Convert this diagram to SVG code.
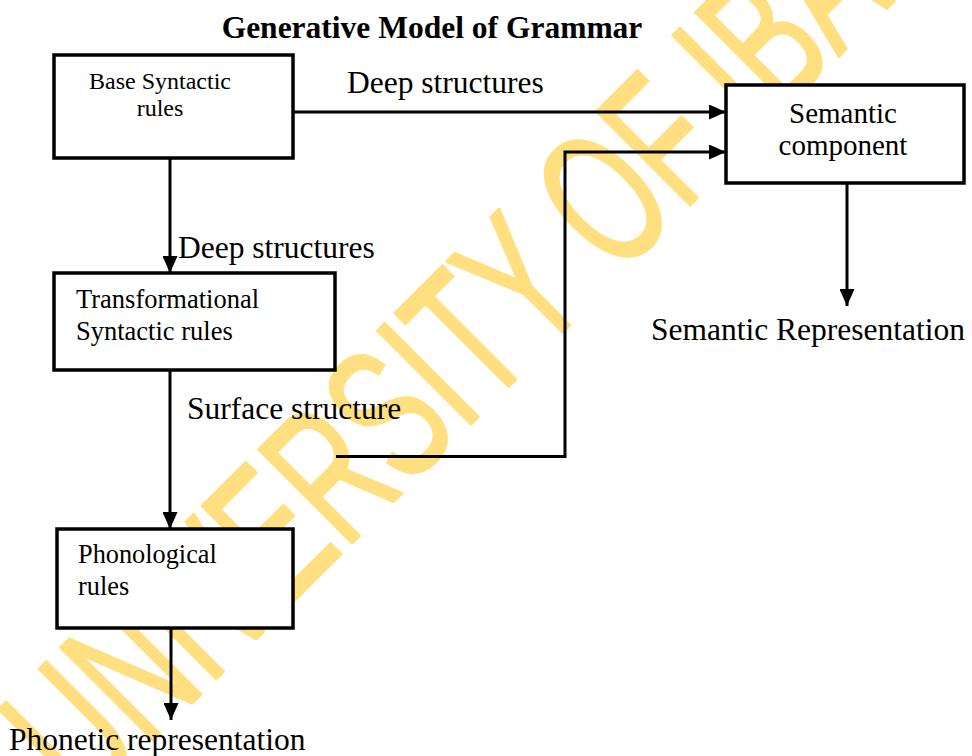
<svg xmlns="http://www.w3.org/2000/svg" width="972" height="756" viewBox="0 0 972 756">
  <defs>
    <marker id="arrow" markerUnits="userSpaceOnUse" markerWidth="17" markerHeight="15" refX="17" refY="7.5" orient="auto">
      <path d="M0,0 L17,7.5 L0,15 z" fill="#000"/>
    </marker>
  </defs>
  <style>
    .box { fill: #fff; stroke: #000; stroke-width: 3.5; }
    .conn { fill: none; stroke: #000; stroke-width: 3; }
    .boxtxt { font-family: "Liberation Serif", "Times New Roman", serif; fill: #000; }
    .lbl { font-family: "Liberation Serif", "Times New Roman", serif; font-size: 31.5px; fill: #000; }
    .wm { font-family: "Liberation Sans", Arial, sans-serif; font-size: 192px; fill: #FFDF80; stroke: #FFDF80; stroke-width: 3; stroke-linejoin: round; stroke-linecap: round; }
  </style>
  <rect width="972" height="756" fill="#fff"/>

  <g id="watermark">
    <text class="wm" transform="translate(85.5,809.5) rotate(-45) scale(0.625,1)">UNIVERSITY OF IBA</text>
  </g>

  <text id="title" x="432" y="38" text-anchor="middle" font-family="Liberation Serif, Times New Roman, serif" font-weight="bold" font-size="31.5">Generative Model of Grammar</text>

  <g id="node-base">
    <rect class="box" x="54" y="55" width="239" height="103"/>
    <text class="boxtxt" font-size="24" x="160" y="89" text-anchor="middle">Base Syntactic</text>
    <text class="boxtxt" font-size="24" x="160" y="116" text-anchor="middle">rules</text>
  </g>

  <g id="node-transformational">
    <rect class="box" x="54" y="273" width="281" height="97"/>
    <text class="boxtxt" font-size="26.5" x="76" y="308">Transformational</text>
    <text class="boxtxt" font-size="26.5" x="76" y="340">Syntactic rules</text>
  </g>

  <g id="node-phonological">
    <rect class="box" x="57" y="529" width="236" height="99"/>
    <text class="boxtxt" font-size="26.3" x="78" y="563">Phonological</text>
    <text class="boxtxt" font-size="26.3" x="78" y="595">rules</text>
  </g>

  <g id="node-semantic">
    <rect class="box" x="726" y="85" width="238" height="98"/>
    <text class="boxtxt" font-size="29" x="843" y="123" text-anchor="middle">Semantic</text>
    <text class="boxtxt" font-size="29" x="843" y="155" text-anchor="middle">component</text>
  </g>

  <g id="connectors">
    <line class="conn" x1="293" y1="112" x2="726" y2="112" stroke-width="3.5" marker-end="url(#arrow)"/>
    <polyline class="conn" points="336,456.5 565,456.5 565,152 726,152" marker-end="url(#arrow)"/>
    <line class="conn" x1="170" y1="158" x2="170" y2="273" marker-end="url(#arrow)"/>
    <line class="conn" x1="170" y1="370" x2="170" y2="529" marker-end="url(#arrow)"/>
    <line class="conn" x1="171" y1="628" x2="171" y2="720" marker-end="url(#arrow)"/>
    <line class="conn" x1="847" y1="183" x2="847" y2="306" marker-end="url(#arrow)"/>
  </g>

  <g id="labels">
    <text class="lbl" x="347" y="93">Deep structures</text>
    <text class="lbl" x="178" y="258">Deep structures</text>
    <text class="lbl" x="187" y="419">Surface structure</text>
    <text class="lbl" x="651" y="340">Semantic Representation</text>
    <text class="lbl" x="9" y="750">Phonetic representation</text>
  </g>
</svg>
